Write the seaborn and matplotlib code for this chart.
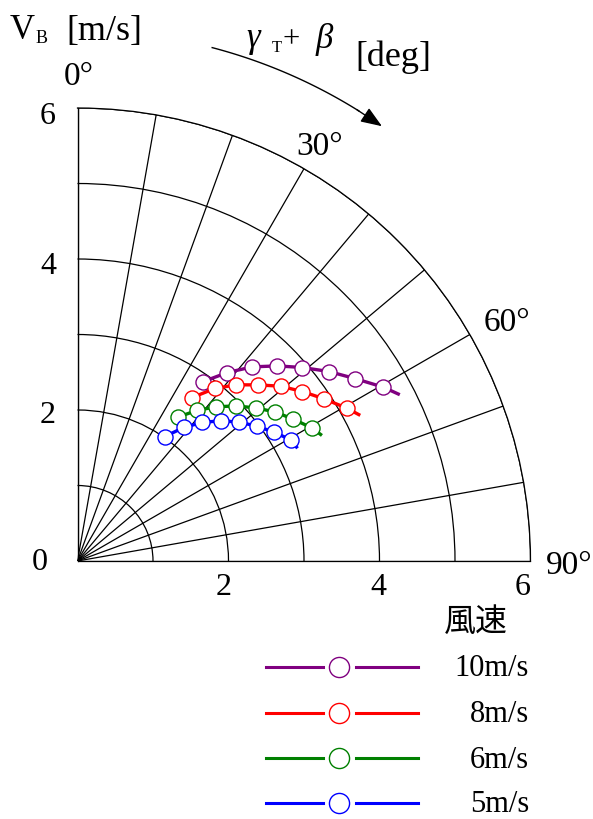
import numpy as np
import matplotlib
matplotlib.use("Agg")
import matplotlib.pyplot as plt
import seaborn as sns
from matplotlib.lines import Line2D

# ---------------- data ----------------
theta_deg = [35.0, 38.5, 42.0, 45.7, 49.3, 53.0, 56.7, 60.4]
theta_end_deg = 62.5
r_10 = [2.90, 3.19, 3.46, 3.70, 3.93, 4.17, 4.40, 4.66]
r_8 = [2.64, 2.92, 3.14, 3.34, 3.55, 3.73, 3.91, 4.10]
r_6 = [2.33, 2.55, 2.75, 2.94, 3.11, 3.28, 3.42, 3.57]
r_5 = [2.01, 2.26, 2.47, 2.66, 2.82, 2.97, 3.11, 3.25]
r_end = [4.79, 4.20, 3.63, 3.27]
series_labels = ["10m/s", "8m/s", "6m/s", "5m/s"]
series_colors = ["#800080", "#ff0000", "#008000", "#0000ff"]
r_ticks = [0, 2, 4, 6]
angle_labels = ["0°", "30°", "60°", "90°"]

plt.rcParams['font.family'] = ['Liberation Serif', 'Noto Sans CJK JP', 'DejaVu Sans']

W, H = 593, 820
fig = plt.figure(figsize=(W / 100, H / 100), dpi=100)


def fx(px):
    return px / W


def fy(py):
    return 1 - py / H


# origin at (77.5, 562) px, radius 6 -> 453 px
ox, oy, R = 77.5, 562.0, 453.0
ax = fig.add_axes([fx(ox), fy(oy), R / W, R / H], projection='polar')
ax.set_theta_zero_location('N')
ax.set_theta_direction(-1)
ax.set_thetamin(0)
ax.set_thetamax(90)
ax.set_ylim(0, 6)
ax.set_rticks([1, 2, 3, 4, 5, 6])
ax.set_yticklabels([])
ax.set_xticks(np.deg2rad(np.arange(0, 91, 10)))
ax.set_xticklabels([])
ax.grid(True, color='black', lw=0.9)
ax.set_facecolor('white')
for k in ['polar', 'start', 'end']:
    ax.spines[k].set_color('black')
    ax.spines[k].set_linewidth(0.9)
ax.spines['inner'].set_visible(False)
ax.tick_params(length=0)

all_r = [r_10, r_8, r_6, r_5]
for rr, re, col in zip(all_r, r_end, series_colors):
    th_line = np.deg2rad(theta_deg + [theta_end_deg])
    sns.lineplot(x=th_line, y=rr + [re], ax=ax, sort=False, estimator=None,
                 color=col, lw=2.4, zorder=2)
    sns.scatterplot(x=np.deg2rad(theta_deg), y=rr, ax=ax, s=118, color='white',
                    edgecolor=col, linewidth=1.0, zorder=3)
ax.set_xlabel('')
ax.set_ylabel('')

# curved arrow for the angle direction
r_arr = 7.03
th_arc = np.deg2rad(np.linspace(14.7, 32.0, 60))
ax.plot(th_arc, np.full_like(th_arc, r_arr), color='black', lw=1.0, clip_on=False)
ax.annotate('', xy=(np.deg2rad(35.0), r_arr), xytext=(np.deg2rad(31.8), r_arr),
            arrowprops=dict(arrowstyle='-|>,head_length=0.65,head_width=0.25',
                            color='black', lw=1.0, mutation_scale=20,
                            shrinkA=0, shrinkB=0),
            annotation_clip=False)


def txt(x, y, s, size, ha='center', va='center', **kw):
    fig.text(fx(x), fy(y), s, fontsize=size, ha=ha, va=va, **kw)


# radial tick labels (left) and bottom
txt(40, 562, str(r_ticks[0]), 23)
for v, yy in zip(r_ticks[1:], [416, 266, 117]):
    txt(48, yy, str(v), 23)
for v, xx in zip(r_ticks[1:], [224, 378, 523]):
    txt(xx, 588, str(v), 23)

# angle labels
txt(79, 77, angle_labels[0], 24)
txt(320, 147, angle_labels[1], 24)
txt(507, 323, angle_labels[2], 24)
txt(569, 566, angle_labels[3], 24)

# axis titles
txt(10, 39, "V", 25, ha='left', va='baseline')
txt(36, 43, "B", 13, ha='left', va='baseline')
txt(66, 40, "[m/s]", 26, ha='left', va='baseline')
txt(246, 47, "γ", 25, ha='left', va='baseline', style='italic')
txt(272, 52, "T", 12, ha='left', va='baseline')
txt(282, 47, "+", 22, ha='left', va='baseline')
txt(316, 48, "β", 25, ha='left', va='baseline', style='italic')
txt(355, 66, "[deg]", 26, ha='left', va='baseline')

# legend
txt(476, 623, "風速", 23)
leg_y = [668, 714, 759, 804]
base_y = [676, 722, 768, 812]
for lab, col, ly, by in zip(series_labels, series_colors, leg_y, base_y):
    fig.add_artist(Line2D([fx(266), fx(323)], [fy(ly), fy(ly)], color=col, lw=2.2,
                          transform=fig.transFigure))
    fig.add_artist(Line2D([fx(356), fx(418)], [fy(ly), fy(ly)], color=col, lw=2.2,
                          transform=fig.transFigure))
    fig.add_artist(Line2D([fx(339.5)], [fy(ly)], marker='o', markersize=14.5,
                          markerfacecolor='white', markeredgecolor=col,
                          markeredgewidth=1.0, linestyle='none',
                          transform=fig.transFigure))
    txt(529, by, lab, 22, ha='right', va='baseline')

fig.savefig('out.png', dpi=100, facecolor='white')
